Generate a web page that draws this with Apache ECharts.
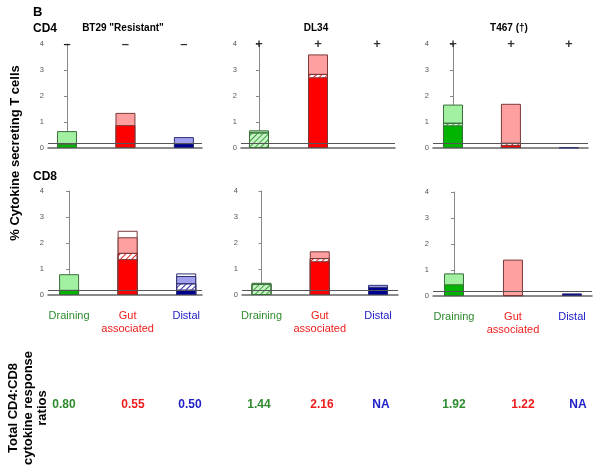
<!DOCTYPE html>
<html><head><meta charset="utf-8">
<script src="https://cdn.jsdelivr.net/npm/echarts@6/dist/echarts.min.js"></script>
<style>html,body{margin:0;padding:0;background:#fff}#c{width:600px;height:471px}</style>
</head><body><div id="c"></div><script>
// ---- data ----
const categories = ['Draining', 'Gut\nassociated', 'Distal'];
const patients = ['BT29 "Resistant"', 'DL34', 'T467 (\u2020)'];
const cd4Signs = [['\u2013', '\u2013', '\u2013'], ['+', '+', '+'], ['+', '+', '+']];
// segment heights (% cytokine secreting T cells) per patient, per tissue [Draining, Gut, Distal]
const cd4Solid   = [[0.15, 0.88, 0.18], [0.00, 2.72, 0.00], [0.87, 0.12, 0.02]];
const cd4Hatched = [[0.00, 0.00, 0.00], [0.60, 0.13, 0.00], [0.10, 0.08, 0.00]];
const cd4Light   = [[0.50, 0.47, 0.24], [0.08, 0.75, 0.00], [0.70, 1.50, 0.00]];
const cd4Open    = [[0.00, 0.00, 0.00], [0.00, 0.00, 0.00], [0.00, 0.00, 0.00]];
const cd8Solid   = [[0.20, 1.38, 0.21], [0.00, 1.30, 0.31], [0.45, 0.03, 0.10]];
const cd8Hatched = [[0.00, 0.24, 0.24], [0.43, 0.12, 0.00], [0.00, 0.00, 0.00]];
const cd8Light   = [[0.60, 0.60, 0.28], [0.04, 0.26, 0.08], [0.42, 1.37, 0.00]];
const cd8Open    = [[0.00, 0.25, 0.10], [0.00, 0.00, 0.00], [0.00, 0.00, 0.00]];
const ratios = [['0.80', '0.55', '0.50'], ['1.44', '2.16', 'NA'], ['1.92', '1.22', 'NA']];
const threshold = 0.2;
const yMin = 0, yMax = 4, yInterval = 1;

// ---- styling / layout ----
const FONT = '"Liberation Sans", Arial, sans-serif';
const dark = ['#00b400', '#ff0000', '#000090'];
const light = ['#a2f0a2', '#ffa0a0', '#a0a0ee'];
const edge = ['#3c6e3c', '#7a3a3a', '#303070'];
const hatchLine = ['#3aa03a', '#ee2020', '#3030b0'];
const hatchBg = ['#c8f2c8', '#ffffff', '#ffffff'];
const textCol = ['#2e8b2e', '#ee1c1c', '#2020c8'];
const layout = [
  {left: 48, width: 154, top: 44, min: -0.325, max: 2.31},
  {left: 241, width: 154, top: 44, min: -0.305, max: 2.305},
  {left: 433, width: 155, top: 44, min: -0.345, max: 2.33},
  {left: 48, width: 154, top: 191, min: -0.36, max: 2.27},
  {left: 242, width: 156, top: 191, min: -0.335, max: 2.343},
  {left: 433, width: 159, top: 192, min: -0.356, max: 2.34}
];
const ratioX = [64, 133, 190, 259, 322, 381, 454, 523, 578];

const rows = [
  {solid: cd4Solid, hatch: cd4Hatched, light: cd4Light, open: cd4Open},
  {solid: cd8Solid, hatch: cd8Hatched, light: cd8Light, open: cd8Open}
];
const kinds = ['solid', 'hatch', 'light', 'open'];

function segStyle(kind, i) {
  const base = {borderColor: edge[i], borderWidth: 1};
  if (kind === 'solid') return Object.assign(base, {color: dark[i]});
  if (kind === 'hatch') return Object.assign(base, {color: hatchBg[i], decal: {
    symbol: 'rect', symbolSize: 1, dashArrayX: [1, 0], dashArrayY: [1, 2.5],
    rotation: -Math.PI / 4, color: hatchLine[i]}});
  if (kind === 'light') return Object.assign(base, {color: light[i]});
  return Object.assign(base, {color: '#ffffff'});
}

const grids = [], xAxes = [], yAxes = [], series = [];
const labelRich = {
  c0: {color: textCol[0], fontSize: 11, fontFamily: FONT, lineHeight: 13},
  c1: {color: textCol[1], fontSize: 11, fontFamily: FONT, lineHeight: 13},
  c2: {color: textCol[2], fontSize: 11, fontFamily: FONT, lineHeight: 13}
};
rows.forEach((row, r) => {
  for (let p = 0; p < 3; p++) {
    const g = r * 3 + p, L = layout[g];
    grids.push({left: L.left, width: L.width, top: L.top, height: 104, containLabel: false, outerBoundsMode: 'none'});
    xAxes.push({
      type: 'value', gridIndex: g, min: L.min, max: L.max,
      axisLine: {show: true, onZero: false, lineStyle: {color: '#666', width: 1.5}},
      axisTick: {show: false}, splitLine: {show: false},
      axisLabel: r === 1 ? {
        show: true, customValues: [0, 1, 2], margin: 14, rich: labelRich,
        formatter: v => {
          const i = Math.round(v);
          return categories[i].split('\n').map(s => '{c' + i + '|' + s + '}').join('\n');
        }
      } : {show: false}
    });
    yAxes.push({
      type: 'value', gridIndex: g, min: yMin, max: yMax, interval: yInterval,
      axisLine: {show: true, lineStyle: {color: '#888', width: 1}},
      axisTick: {show: true, length: 3, lineStyle: {color: '#888'}},
      axisLabel: {fontSize: 7.5, color: '#555', margin: 4, fontFamily: FONT},
      splitLine: {show: false}
    });
    // cumulative tops for overlapping bars
    const tops = kinds.map((k, ki) => [0, 1, 2].map(i =>
      kinds.slice(0, ki + 1).reduce((s, kk) => s + row[kk][p][i], 0)));
    for (let ki = kinds.length - 1; ki >= 0; ki--) {
      const k = kinds[ki];
      const s = {
        type: 'bar', xAxisIndex: g, yAxisIndex: g, barWidth: 20, barGap: '-100%',
        animation: false, silent: true,
        data: [0, 1, 2].map(i => row[k][p][i] > 0
          ? {value: [i, +tops[ki][i].toFixed(3)], itemStyle: segStyle(k, i)}
          : {value: [i, '-']})
      };
      if (ki === kinds.length - 1) {
        s.markLine = {symbol: 'none', silent: true, animation: false,
          label: {show: false}, lineStyle: {color: '#555', width: 1, type: 'solid'},
          data: [{yAxis: threshold}]};
      }
      series.push(s);
    }
    if (r === 0) {
      series.push({
        type: 'scatter', xAxisIndex: g, yAxisIndex: g, symbolSize: 1, animation: false,
        itemStyle: {color: 'rgba(0,0,0,0)'}, silent: true, z: 5,
        data: [[0, yMax], [1, yMax], [2, yMax]],
        label: {show: true, position: 'inside', fontSize: 13, fontWeight: 'bold', color: '#000',
          fontFamily: FONT, formatter: prm => cd4Signs[p][prm.dataIndex]}
      });
    }
  }
});

const graphic = [
  {type: 'text', x: 33, y: 12, style: {text: 'B', font: 'bold 13px ' + FONT, fill: '#000', verticalAlign: 'middle'}},
  {type: 'text', x: 33, y: 29, style: {text: 'CD4', font: 'bold 12px ' + FONT, fill: '#000', verticalAlign: 'middle'}},
  {type: 'text', x: 33, y: 177, style: {text: 'CD8', font: 'bold 12px ' + FONT, fill: '#000', verticalAlign: 'middle'}},
  {type: 'text', x: 15, y: 153, rotation: Math.PI / 2,
   style: {text: '% Cytokine secreting T cells', font: 'bold 13px ' + FONT, fill: '#000', align: 'center', verticalAlign: 'middle'}},
  {type: 'text', x: 28, y: 408, rotation: Math.PI / 2,
   style: {text: 'Total CD4:CD8\ncytokine response\nratios', font: 'bold 13px ' + FONT, lineHeight: 14.5, fill: '#000', align: 'center', verticalAlign: 'middle'}}
];
const titleX = [123, 316, 509];
patients.forEach((t, p) => graphic.push({type: 'text', x: titleX[p], y: 28,
  style: {text: t, font: 'bold 10px ' + FONT, fill: '#000', align: 'center', verticalAlign: 'middle'}}));
ratios.forEach((rr, p) => rr.forEach((t, i) => graphic.push({type: 'text', x: ratioX[p * 3 + i], y: 405,
  style: {text: t, font: 'bold 12px ' + FONT, fill: textCol[i], align: 'center', verticalAlign: 'middle'}})));

const chart = echarts.init(document.getElementById('c'), null, {renderer: 'canvas'});
chart.setOption({
  animation: false, backgroundColor: '#fff',
  grid: grids, xAxis: xAxes, yAxis: yAxes, series: series, graphic: graphic
});
</script></body></html>
